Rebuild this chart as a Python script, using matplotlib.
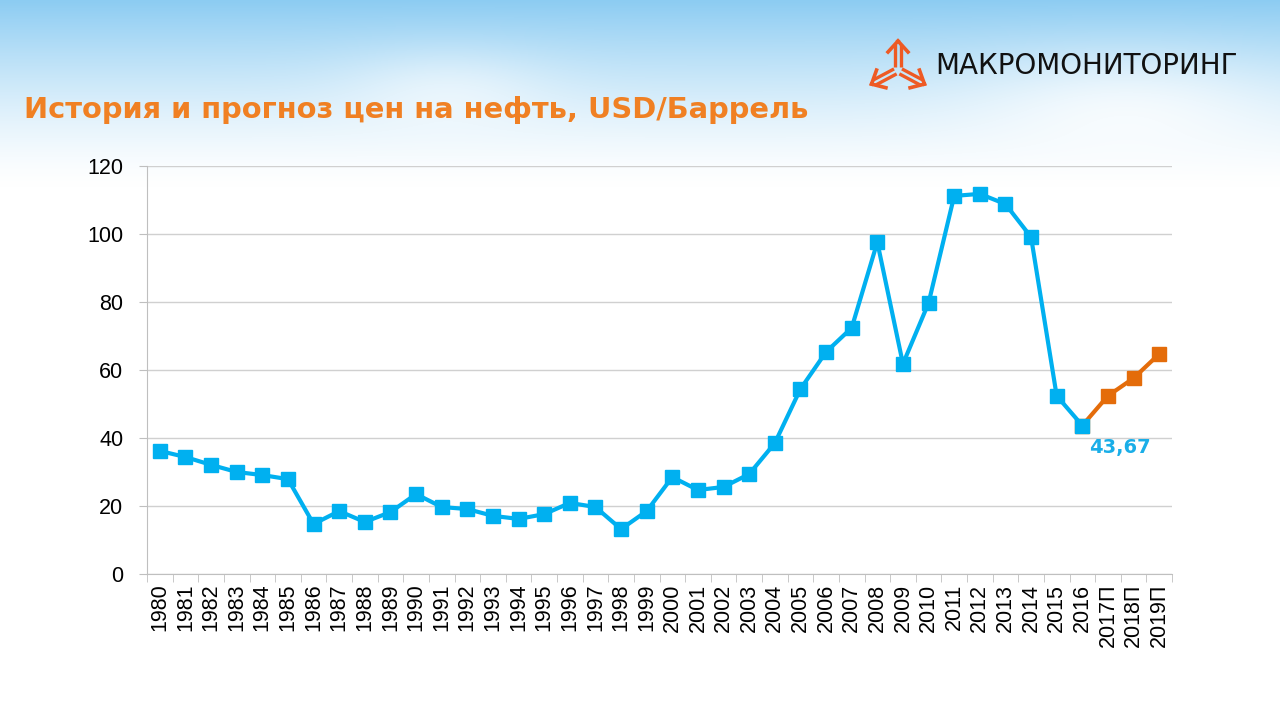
import numpy as np
import matplotlib.pyplot as plt

years = ["1980", "1981", "1982", "1983", "1984", "1985", "1986", "1987", "1988", "1989",
         "1990", "1991", "1992", "1993", "1994", "1995", "1996", "1997", "1998", "1999",
         "2000", "2001", "2002", "2003", "2004", "2005", "2006", "2007", "2008", "2009",
         "2010", "2011", "2012", "2013", "2014", "2015", "2016", "2017П", "2018П", "2019П"]

history = [36.2, 34.4, 32.1, 30.0, 29.1, 27.9, 14.7, 18.5, 15.3, 18.2,
           23.5, 19.7, 19.1, 17.1, 16.2, 17.6, 20.9, 19.7, 13.2, 18.5,
           28.5, 24.7, 25.6, 29.4, 38.5, 54.4, 65.3, 72.4, 97.6, 61.8,
           79.7, 111.2, 111.8, 108.8, 99.1, 52.4, 43.67]

forecast = [43.67, 52.4, 57.6, 64.7]

yticks = [0, 20, 40, 60, 80, 100, 120]

blue = "#00B0F0"
orange = "#E46C0A"

plt.rcParams['font.family'] = ['Liberation Sans', 'DejaVu Sans']

fig = plt.figure(figsize=(12.8, 7.2), dpi=100)

# sky-like background with whiter cloud patches
bg = fig.add_axes([0, 0, 1, 1], zorder=-10)
h, w = 720, 1280
yy = np.linspace(0, 1, h)[:, None]
xx = np.linspace(0, 1, w)[None, :]
fade = np.clip(1 - yy / 0.26, 0, 1) ** 1.4
cloud = np.exp(-((xx - 0.88) / 0.12) ** 2 - ((yy - 0.16) / 0.08) ** 2)
cloud += 0.7 * np.exp(-((xx - 0.35) / 0.08) ** 2 - ((yy - 0.13) / 0.06) ** 2)
fade = np.clip(fade * (1 - 0.7 * cloud), 0, 1)
sky = np.array([0.55, 0.80, 0.95])
img = np.ones((h, w, 3)) - fade[..., None] * (1 - sky)[None, None, :]
bg.imshow(img, aspect="auto", extent=[0, 1, 0, 1])
bg.set_xlim(0, 1)
bg.set_ylim(0, 1)
bg.axis("off")

ax = fig.add_axes([147 / 1280, 1 - 574 / 720, (1172 - 147) / 1280, (574 - 166) / 720])
ax.set_facecolor("none")

x_hist = np.arange(len(history))
x_fore = np.arange(len(history) - 1, len(history) - 1 + len(forecast))

ax.plot(x_fore, forecast, color=orange, lw=3, marker="s", ms=10, zorder=3)
ax.plot(x_hist, history, color=blue, lw=3, marker="s", ms=10, zorder=4)

ax.set_xlim(-0.5, len(years) - 0.5)
ax.set_ylim(0, 120)
ax.set_yticks(yticks)
ax.set_xticks(np.arange(len(years)))
ax.set_xticklabels(years, rotation=90, fontsize=15.5)
ax.set_xticks(np.arange(len(years) + 1) - 0.5, minor=True)
ax.tick_params(axis="x", which="major", length=0, pad=7)
ax.tick_params(axis="x", which="minor", length=6, color="#BFBFBF")
ax.tick_params(axis="y", length=6, color="#BFBFBF", labelsize=15.5, pad=11)
ax.grid(axis="y", color="#D0D0D0", lw=1)
ax.set_axisbelow(True)
for s in ["top", "right"]:
    ax.spines[s].set_visible(False)
for s in ["left", "bottom"]:
    ax.spines[s].set_color("#BFBFBF")

ax.annotate(f"{history[-1]:.2f}".replace(".", ","), (x_hist[-1], history[-1]),
            xytext=(5, -16), textcoords="offset points", ha="left", va="center",
            color="#1AAEE8", fontsize=14, fontweight="bold", family="DejaVu Sans")

fig.text(24 / 1280, 1 - 110 / 720, "История и прогноз цен на нефть, USD/Баррель",
         color="#F08023", fontsize=20.8, fontweight="bold", family="DejaVu Sans",
         va="center", ha="left")

# logo
fig.text(935 / 1280, 1 - 66 / 720, "МАКРОМОНИТОРИНГ", color="#111111",
         fontsize=20, family="DejaVu Sans", va="center", ha="left")
lg = fig.add_axes([868 / 1280, 1 - 92 / 720, 62 / 1280, 54 / 720])
lg.set_xlim(-31, 31)
lg.set_ylim(-27, 27)
lg.set_aspect("equal")
lg.axis("off")
lc = "#EE5A24"
c0 = np.array([-1.0, -5.0])
for ang, length in ((90, 29), (208, 30), (332, 30)):
    a = np.deg2rad(ang)
    d = np.array([np.cos(a), np.sin(a)])
    p = np.array([-d[1], d[0]])
    for off in (-2.8, 2.8):
        s0 = c0 + d * 3 + p * off
        s1 = c0 + d * (length - 3) + p * off
        lg.plot([s0[0], s1[0]], [s0[1], s1[1]], color=lc, lw=2.4, solid_capstyle="butt")
    tip = c0 + d * length
    for side in (-1, 1):
        arm = tip - d * 11 + p * side * 10
        lg.plot([tip[0], arm[0]], [tip[1], arm[1]], color=lc, lw=2.6)

fig.savefig("out.png", dpi=100)
